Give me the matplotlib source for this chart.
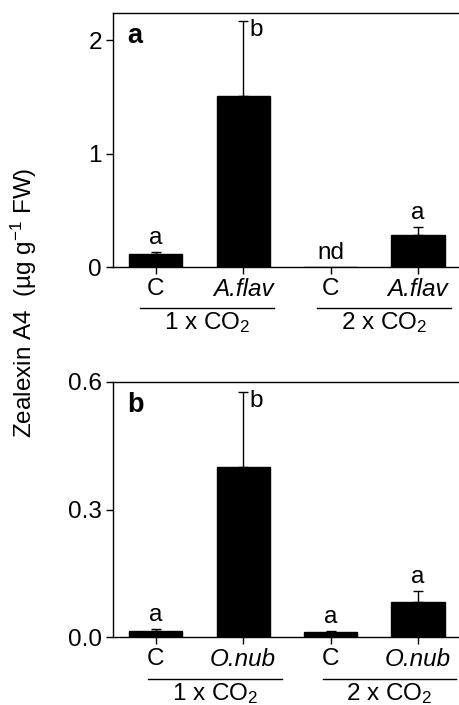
import numpy as np
import matplotlib.pyplot as plt
from matplotlib.transforms import blended_transform_factory

plt.rcParams['font.family'] = ['Liberation Sans', 'DejaVu Sans']
plt.rcParams['mathtext.fontset'] = 'custom'
plt.rcParams['mathtext.rm'] = 'Liberation Sans'
plt.rcParams['mathtext.it'] = 'Liberation Sans:italic'

# panel a (A. flavus)
labels_a = ['C', 'A.flav', 'C', 'A.flav']
means_a = [0.112, 1.506, 0.0, 0.282]
errs_a = [0.018, 0.66, 0.0, 0.068]
letters_a = ['a', 'b', 'nd', 'a']

# panel b (O. nubilalis)
labels_b = ['C', 'O.nub', 'C', 'O.nub']
means_b = [0.015, 0.400, 0.011, 0.083]
errs_b = [0.004, 0.176, 0.002, 0.026]
letters_b = ['a', 'b', 'a', 'a']

groups = ['1 x CO$_2$', '2 x CO$_2$']

W, H = 459, 705
fig = plt.figure(figsize=(W / 100, H / 100), dpi=100)

def px_axes(left, top, right, bottom):
    return fig.add_axes([left / W, 1 - bottom / H, (right - left) / W, (bottom - top) / H])

fs = 17.5

def panel(ax, labels, means, errs, letters, ylim, yticks, yfmt, tag, glines):
    x = np.arange(len(means))
    ax.bar(x, means, width=0.61, color='black', edgecolor='black', zorder=2)
    for xi, m, e in zip(x, means, errs):
        if e > 0:
            ax.errorbar(xi, m, yerr=[[0], [e]], fmt='none', ecolor='black',
                        elinewidth=1, capsize=3.5, capthick=1, zorder=3)
    for i, (xi, m, e, l) in enumerate(zip(x, means, errs, letters)):
        if l == 'b':
            ax.text(xi + 0.07, m + e + ylim[1] * 0.008, l, ha='left', va='top', fontsize=fs)
        else:
            ax.text(xi, m + e + ylim[1] * 0.012, l, ha='center', va='bottom', fontsize=fs)
    ax.set_xlim(-0.49, 3.47)
    ax.set_ylim(*ylim)
    ax.set_yticks(yticks)
    ax.set_yticklabels([yfmt.format(v) for v in yticks], fontsize=fs)
    ax.set_xticks(x)
    ax.set_xticklabels(labels, fontsize=fs)
    for t, l in zip(ax.get_xticklabels(), labels):
        if l != 'C':
            t.set_fontstyle('italic')
    ax.tick_params(axis='both', direction='out', length=5, width=1, pad=3)
    ax.spines['right'].set_visible(False)
    for s in ['left', 'top', 'bottom']:
        ax.spines[s].set_linewidth(1)
    ax.text(0.04, 0.96, tag, transform=ax.transAxes, fontsize=fs + 2,
            fontweight='bold', ha='left', va='top')
    tr = blended_transform_factory(ax.transData, ax.transAxes)
    for (x0, x1), g in zip(glines, groups):
        ax.plot([x0, x1], [-0.163, -0.163], color='black', lw=1,
                transform=tr, clip_on=False)
        ax.text((x0 + x1) / 2, -0.171, g, transform=tr, ha='center', va='top',
                fontsize=fs)

ax1 = px_axes(113, 13, 459, 267)
panel(ax1, labels_a, means_a, errs_a, letters_a, (0, 2.24), [0, 1, 2], '{:.0f}', 'a',
      [(-0.18, 1.35), (1.85, 3.38)])

ax2 = px_axes(113, 382, 459, 637)
panel(ax2, labels_b, means_b, errs_b, letters_b, (0, 0.6), [0.0, 0.3, 0.6], '{:.1f}', 'b',
      [(-0.09, 1.44), (1.91, 3.44)])

fig.text(24 / W, 1 - 303 / H, 'Zealexin A4  (µg g$^{-1}$ FW)', rotation=90,
         ha='center', va='center', fontsize=fs)

fig.savefig('out.png', dpi=100)
